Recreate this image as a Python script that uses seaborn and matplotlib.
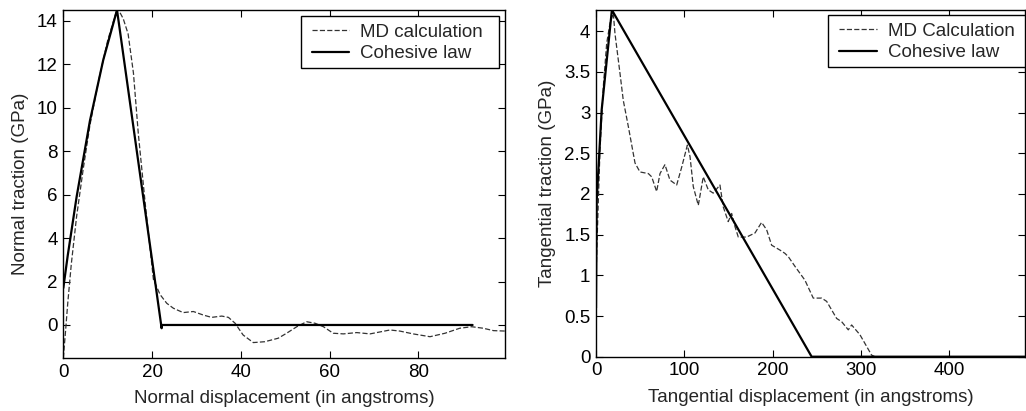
import matplotlib
matplotlib.use("Agg")
import matplotlib.pyplot as plt
from matplotlib.patches import Rectangle
import seaborn as sns

# ---- Left panel data (normal) ----
n_md_x = [0, 0.5, 1.0, 1.8, 3, 4.5, 6, 8, 10, 12.2, 13.5, 14.6, 15.8, 16.9, 18.5, 20.3,
          21.8, 23.3, 24.8, 27.0, 29.3, 31.5, 33.4, 35.7, 37.2, 38.7, 40.5, 42.8, 45.4,
          48.4, 50.3, 52.6, 54.8, 56.7, 58.6, 60.8, 63.1, 66.1, 69.1, 73.6, 75.8, 78.8,
          82.6, 86.0, 89.3, 92.0, 94.6, 96.9, 99.5]
n_md_y = [-1.52, -0.3, 1.0, 2.8, 5.0, 7.2, 9.2, 11.3, 13.1, 14.6, 14.1, 13.4, 11.6, 8.8,
          5.5, 2.1, 1.4, 1.0, 0.77, 0.57, 0.62, 0.46, 0.35, 0.41, 0.35, 0.08, -0.46, -0.81,
          -0.77, -0.61, -0.38, -0.08, 0.15, 0.08, -0.08, -0.38, -0.41, -0.35, -0.41, -0.23,
          -0.28, -0.41, -0.54, -0.38, -0.15, -0.08, -0.15, -0.26, -0.28]
n_cl_x = [0, 1, 3, 6, 9, 12.1, 22.15, 22.15, 92.2]
n_cl_y = [1.7, 3.2, 5.9, 9.4, 12.2, 14.5, -0.15, 0, 0]

# ---- Right panel data (tangential) ----
t_md_x = [0, 1.5, 4.5, 8.3, 12.1, 15.9, 19.6, 21.5, 27.2, 30.9, 36.6, 44.2, 49.8, 59.3,
          63.1, 68.7, 72.5, 78.1, 83.8, 91.4, 97.1, 103.5, 106.5, 110.2, 115.9, 121.5,
          127.2, 132.8, 140.4, 144.2, 149.8, 153.7, 157.4, 161.2, 170.6, 180.1, 187.6,
          193.3, 199.0, 208.4, 214.0, 217.8, 225.4, 236.7, 246.1, 255.6, 261.3, 272.6,
          278.3, 285.8, 289.6, 299.0, 312.2, 316, 486]
t_md_y = [0.98, 1.52, 2.54, 3.32, 3.85, 4.1, 4.22, 3.97, 3.48, 3.15, 2.83, 2.38, 2.27, 2.25,
          2.21, 2.03, 2.25, 2.36, 2.17, 2.11, 2.33, 2.6, 2.46, 2.09, 1.86, 2.21, 2.05, 2.01,
          2.11, 1.84, 1.66, 1.76, 1.6, 1.47, 1.47, 1.52, 1.65, 1.56, 1.37, 1.31, 1.27, 1.23,
          1.11, 0.94, 0.72, 0.72, 0.68, 0.47, 0.43, 0.33, 0.39, 0.27, 0.02, 0, 0]
t_cl_x = [0, 0.8, 6.4, 18, 244.3, 486]
t_cl_y = [0.6, 1.92, 3.03, 4.26, 0, 0]

n_xticks = [0, 20, 40, 60, 80]
n_yticks = [0, 2, 4, 6, 8, 10, 12, 14]
t_xticks = [0, 100, 200, 300, 400]
t_yticks = [0, 0.5, 1, 1.5, 2, 2.5, 3, 3.5, 4]
t_yticklabels = ["0", "0.5", "1", "1.5", "2", "2.5", "3", "3.5", "4"]

sns.set_theme(style="ticks")
plt.rcParams["font.family"] = ["Liberation Sans", "DejaVu Sans"]
plt.rcParams["lines.scale_dashes"] = False
FS = 13.5

W, H = 1026, 411
fig = plt.figure(figsize=(W / 100, H / 100), dpi=100)
axL = fig.add_axes([63.3 / W, (H - 358) / H, (505 - 63.3) / W, (358 - 10) / H])
axR = fig.add_axes([596 / W, (H - 356.7) / H, (1025 - 596) / W, (356.7 - 10) / H])

dash_kw = dict(color="#333333", linewidth=0.9, dashes=(4.5, 3.2))
solid_kw = dict(color="black", linewidth=1.6)

def draw(ax, mdx, mdy, clx, cly, md_label):
    sns.lineplot(x=mdx, y=mdy, ax=ax, sort=False, estimator=None, label=md_label,
                 linestyle="--", **dash_kw)
    sns.lineplot(x=clx, y=cly, ax=ax, sort=False, estimator=None, label="Cohesive law",
                 **solid_kw)
    for sp in ax.spines.values():
        sp.set_visible(True)
        sp.set_color("black")
        sp.set_linewidth(1.0)
    ax.tick_params(direction="in", length=5, width=0.8, top=True, right=True,
                   labelsize=FS, colors="black", pad=4)

draw(axL, n_md_x, n_md_y, n_cl_x, n_cl_y, "MD calculation")
axL.set_xlim(0, 99.5)
axL.set_ylim(-1.52, 14.5)
axL.set_xticks(n_xticks)
axL.set_yticks(n_yticks)
axL.set_xlabel("Normal displacement (in angstroms)", fontsize=FS, labelpad=7)
axL.set_ylabel("Normal traction (GPa)", fontsize=FS, labelpad=6)

draw(axR, t_md_x, t_md_y, t_cl_x, t_cl_y, "MD Calculation")
axR.set_xlim(0, 486)
axR.set_ylim(0, 4.26)
axR.set_xticks(t_xticks)
axR.set_yticks(t_yticks)
axR.set_yticklabels(t_yticklabels)
axR.set_xlabel("Tangential displacement (in angstroms)", fontsize=FS, labelpad=7)
axR.set_ylabel("Tangential traction (GPa)", fontsize=FS, labelpad=6)

# legend boxes (pixel coordinates: x0, y0_top, x1, y1_bottom) and content anchors
for ax, (bx0, by0, bx1, by1), hx in ((axL, (300.7, 16, 499, 67.7), 311.7),
                                     (axR, (828, 15, 1024.5, 67), 839)):
    ax.add_patch(Rectangle((bx0 / W, 1 - by1 / H), (bx1 - bx0) / W, (by1 - by0) / H,
                           transform=fig.transFigure, facecolor="white",
                           edgecolor="black", linewidth=1.0, zorder=4, clip_on=False))
    leg = ax.legend(loc="upper left", bbox_to_anchor=(hx / W, 1 - (by0 + 7.5) / H),
                    bbox_transform=fig.transFigure, borderaxespad=0, borderpad=0,
                    fontsize=FS, frameon=False, handlelength=2.0, handletextpad=0.6,
                    labelspacing=0.25)
    leg.set_zorder(6)

fig.savefig("out.png", dpi=100)
